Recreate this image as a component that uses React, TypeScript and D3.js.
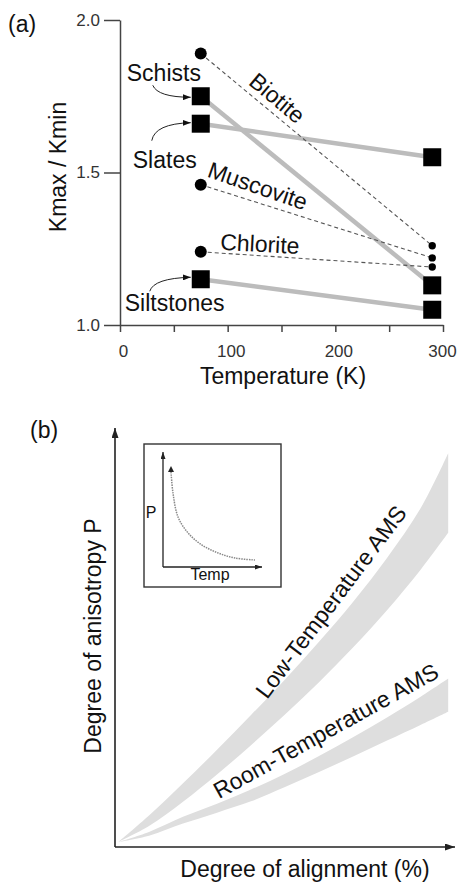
import React, { useEffect, useRef } from 'react';
import * as d3 from 'd3';

const FONT = '"Liberation Sans", Arial, Helvetica, sans-serif';

// (a) Kmax/Kmin at 77 K and room temperature
const temperatureK = [75, 290];
const xTicks = [0, 50, 100, 150, 200, 250, 300];
const yTicks = [1.0, 1.5, 2.0];
const rockTypes = ['Schists', 'Slates', 'Siltstones'];
const rockRatio = [
  [1.75, 1.13],
  [1.66, 1.55],
  [1.15, 1.05],
];
const minerals = ['Biotite', 'Muscovite', 'Chlorite'];
const mineralRatio = [
  [1.89, 1.26],
  [1.46, 1.22],
  [1.24, 1.19],
];

// (b) schematic bands, degree of alignment (%) vs P (arbitrary units)
const alignment = [1, 10, 20, 30, 40, 50, 60, 70, 80, 90, 98];
const lowUpper = [1.2, 7.5, 15.2, 23.2, 31.5, 40, 49, 58.5, 69, 81, 94];
const lowLower = [1.2, 5, 10.8, 17.3, 24.3, 31.6, 39.3, 47.6, 56.5, 66.3, 75];
const roomUpper = [1.2, 3.6, 7.2, 10.3, 13.7, 17.5, 21.7, 26.2, 30.9, 35.9, 40.2];
const roomLower = [1.2, 2.7, 5.6, 8.2, 10.9, 14.3, 17.9, 21.6, 25.4, 29.2, 32.3];

// inset: P vs Temp
const insetTemp = [8.1, 10.1, 15.2, 25.3, 39.4, 55.6, 72.7, 92.9];
const insetP = [82.6, 64.3, 43.5, 29.6, 19.1, 12.2, 7.8, 6.1];

export default function App() {
  const svgRef = useRef<SVGSVGElement>(null);

  useEffect(() => {
    if (!svgRef.current) return;
    const svg = d3.select(svgRef.current);
    svg.selectAll('*').remove();

    const defs = svg.append('defs');
    const marker = (id: string, w: number, h: number, color: string) =>
      defs
        .append('marker')
        .attr('id', id)
        .attr('markerUnits', 'userSpaceOnUse')
        .attr('markerWidth', w)
        .attr('markerHeight', h)
        .attr('refX', w)
        .attr('refY', h / 2)
        .attr('orient', 'auto-start-reverse')
        .append('path')
        .attr('d', `M0,0L${w},${h / 2}L0,${h}Z`)
        .attr('fill', color);
    marker('arrowSmall', 8, 6, '#111');
    marker('arrowAxis', 10, 7, '#222');
    marker('arrowInset', 7, 5, '#222');

    // ---------- panel (a) ----------
    const x = d3.scaleLinear().domain([0, 300]).range([120, 443]);
    const y = d3.scaleLinear().domain([1, 2]).range([325, 20]);
    const a = svg.append('g');

    const xAxis = a
      .append('g')
      .attr('transform', `translate(0,${y(1)})`)
      .call(
        d3
          .axisBottom(x)
          .tickValues(xTicks)
          .tickFormat((d) => (+d % 100 === 0 ? String(d) : ''))
          .tickSize(7)
          .tickSizeOuter(0)
          .tickPadding(13)
      );
    const yAxis = a
      .append('g')
      .attr('transform', `translate(${x(0)},0)`)
      .call(
        d3
          .axisLeft(y)
          .tickValues(yTicks)
          .tickFormat(d3.format('.1f'))
          .tickSize(16)
          .tickSizeOuter(0)
          .tickPadding(4)
      );
    [xAxis, yAxis].forEach((ax) => {
      ax.selectAll('path, line').attr('stroke', '#444').attr('stroke-width', 1.5);
      ax.selectAll('text')
        .attr('font-family', FONT)
        .attr('font-size', 17)
        .attr('fill', '#333');
    });
    xAxis.selectAll('text').attr('dx', (d: any) => (d === 300 ? -1 : 3));

    // rock lines
    rockRatio.forEach((vals) => {
      a.append('line')
        .attr('x1', x(temperatureK[0]))
        .attr('y1', y(vals[0]))
        .attr('x2', x(temperatureK[1]))
        .attr('y2', y(vals[1]))
        .attr('stroke', '#bcbcbc')
        .attr('stroke-width', 4.5);
    });
    // mineral lines
    mineralRatio.forEach((vals) => {
      a.append('line')
        .attr('x1', x(temperatureK[0]))
        .attr('y1', y(vals[0]))
        .attr('x2', x(temperatureK[1]))
        .attr('y2', y(vals[1]))
        .attr('stroke', '#555')
        .attr('stroke-width', 1.1)
        .attr('stroke-dasharray', '4,3');
    });
    // markers
    const sq = 18;
    rockRatio.forEach((vals) => {
      vals.forEach((v, i) => {
        a.append('rect')
          .attr('x', x(temperatureK[i]) - sq / 2)
          .attr('y', y(v) - sq / 2)
          .attr('width', sq)
          .attr('height', sq)
          .attr('fill', '#000');
      });
    });
    mineralRatio.forEach((vals) => {
      vals.forEach((v, i) => {
        a.append('circle')
          .attr('cx', x(temperatureK[i]))
          .attr('cy', y(v))
          .attr('r', i === 0 ? 6 : 3.7)
          .attr('fill', '#000');
      });
    });

    const txt = (g: any, s: string, px: number, py: number, size: number, opts: any = {}) =>
      g
        .append('text')
        .attr('x', px)
        .attr('y', py)
        .attr('font-family', FONT)
        .attr('font-size', size)
        .attr('fill', '#111')
        .attr('text-anchor', opts.anchor || 'start')
        .attr('dominant-baseline', opts.baseline || 'auto')
        .attr('transform', opts.rotate != null ? `rotate(${opts.rotate},${px},${py})` : null)
        .text(s);

    // rock labels with curved arrows
    const x0 = x(temperatureK[0]);
    const rockLabel = [
      { dx: -74, dy: -15 },
      { dx: -68, dy: 44 },
      { dx: -76, dy: 32 },
    ];
    const rockArrow = [
      (yy: number) => `M${x0 - 48},${yy - 11}Q${x0 - 43},${yy + 1} ${x0 - 10},${yy + 1}`,
      (yy: number) => `M${x0 - 49},${yy + 17}Q${x0 - 46},${yy} ${x0 - 10},${yy - 1}`,
      (yy: number) => `M${x0 - 51},${yy + 12}Q${x0 - 47},${yy - 1} ${x0 - 10},${yy - 2}`,
    ];
    rockTypes.forEach((name, i) => {
      const yy = y(rockRatio[i][0]);
      txt(a, name, x0 + rockLabel[i].dx, yy + rockLabel[i].dy, 23);
      a.append('path')
        .attr('d', rockArrow[i](yy))
        .attr('fill', 'none')
        .attr('stroke', '#222')
        .attr('stroke-width', 1)
        .attr('marker-end', 'url(#arrowSmall)');
    });

    // mineral labels (data-space anchors)
    const mineralLabelPos = [
      { t: 146, k: 1.744, rot: 40 },
      { t: 128, k: 1.456, rot: 19 },
      { t: 130, k: 1.266, rot: 3 },
    ];
    minerals.forEach((name, i) => {
      const p = mineralLabelPos[i];
      txt(a, name, x(p.t), y(p.k), 23, { anchor: 'middle', baseline: 'central', rotate: p.rot });
    });

    txt(a, '(a)', 8, 32, 23);
    txt(a, 'Temperature (K)', 283, 384, 23, { anchor: 'middle' });
    txt(a, 'Kmax / Kmin', 58, 167, 23, { anchor: 'middle', baseline: 'central', rotate: -90 });

    // ---------- panel (b) ----------
    const xb = d3.scaleLinear().domain([0, 100]).range([115, 455]);
    const yb = d3.scaleLinear().domain([0, 100]).range([847, 428]);
    const b = svg.append('g');

    const band = d3
      .area<number>()
      .x((_, i) => xb(alignment[i]))
      .curve(d3.curveCatmullRom.alpha(0.5));
    b.append('path')
      .attr('d', band.y0((_, i) => yb(lowLower[i])).y1((_, i) => yb(lowUpper[i]))(alignment))
      .attr('fill', '#dedede');
    b.append('path')
      .attr('d', band.y0((_, i) => yb(roomLower[i])).y1((_, i) => yb(roomUpper[i]))(alignment))
      .attr('fill', '#dedede');

    // axes with arrows
    b.append('line')
      .attr('x1', xb(0))
      .attr('y1', yb(0))
      .attr('x2', xb(0))
      .attr('y2', yb(100))
      .attr('stroke', '#222')
      .attr('stroke-width', 1.6)
      .attr('marker-end', 'url(#arrowAxis)');
    b.append('line')
      .attr('x1', xb(0))
      .attr('y1', yb(0))
      .attr('x2', xb(100))
      .attr('y2', yb(0))
      .attr('stroke', '#222')
      .attr('stroke-width', 1.6)
      .attr('marker-end', 'url(#arrowAxis)');

    txt(b, '(b)', 30, 438, 23);
    txt(b, 'Degree of alignment (%)', 305, 877, 23, { anchor: 'middle' });
    txt(b, 'Degree of anisotropy P', 93, 636, 23, { anchor: 'middle', baseline: 'central', rotate: -90 });
    txt(b, 'Low-Temperature AMS', xb(63.5), yb(58.5), 23, { anchor: 'middle', baseline: 'central', rotate: -53 });
    txt(b, 'Room-Temperature AMS', xb(62), yb(27.7), 23, { anchor: 'middle', baseline: 'central', rotate: -29 });

    // inset
    const xi = d3.scaleLinear().domain([0, 100]).range([163, 262]);
    const yi = d3.scaleLinear().domain([0, 100]).range([567, 452]);
    b.append('rect')
      .attr('x', 144)
      .attr('y', 444)
      .attr('width', 137)
      .attr('height', 143)
      .attr('fill', 'none')
      .attr('stroke', '#333')
      .attr('stroke-width', 1.4);
    b.append('line')
      .attr('x1', xi(0))
      .attr('y1', yi(0))
      .attr('x2', xi(0))
      .attr('y2', yi(100))
      .attr('stroke', '#222')
      .attr('stroke-width', 1.3)
      .attr('marker-end', 'url(#arrowInset)');
    b.append('line')
      .attr('x1', xi(0))
      .attr('y1', yi(0))
      .attr('x2', xi(100))
      .attr('y2', yi(0))
      .attr('stroke', '#222')
      .attr('stroke-width', 1.3)
      .attr('marker-end', 'url(#arrowInset)');
    const insetLine = d3
      .line<number>()
      .x((d) => xi(d))
      .y((_, i) => yi(insetP[i]))
      .curve(d3.curveCatmullRom.alpha(0.5));
    b.append('path')
      .attr('d', insetLine(insetTemp))
      .attr('fill', 'none')
      .attr('stroke', '#888')
      .attr('stroke-width', 1.5)
      .attr('stroke-dasharray', '1.5,1');
    // little arrow at top of the curve
    b.append('path')
      .attr('d', `M${xi(insetTemp[0]) - 3},${yi(insetP[0])}L${xi(insetTemp[0])},${yi(insetP[0]) - 6}L${xi(insetTemp[0]) + 3},${yi(insetP[0])}Z`)
      .attr('fill', '#222');
    txt(b, 'P', 151, 512, 16, { anchor: 'middle', baseline: 'central' });
    txt(b, 'Temp', 210, 580, 16, { anchor: 'middle' });
  }, []);

  return (
    <svg
      ref={svgRef}
      width={457}
      height={882}
      style={{ position: 'absolute', left: 0, top: 0, background: '#fff' }}
    />
  );
}
